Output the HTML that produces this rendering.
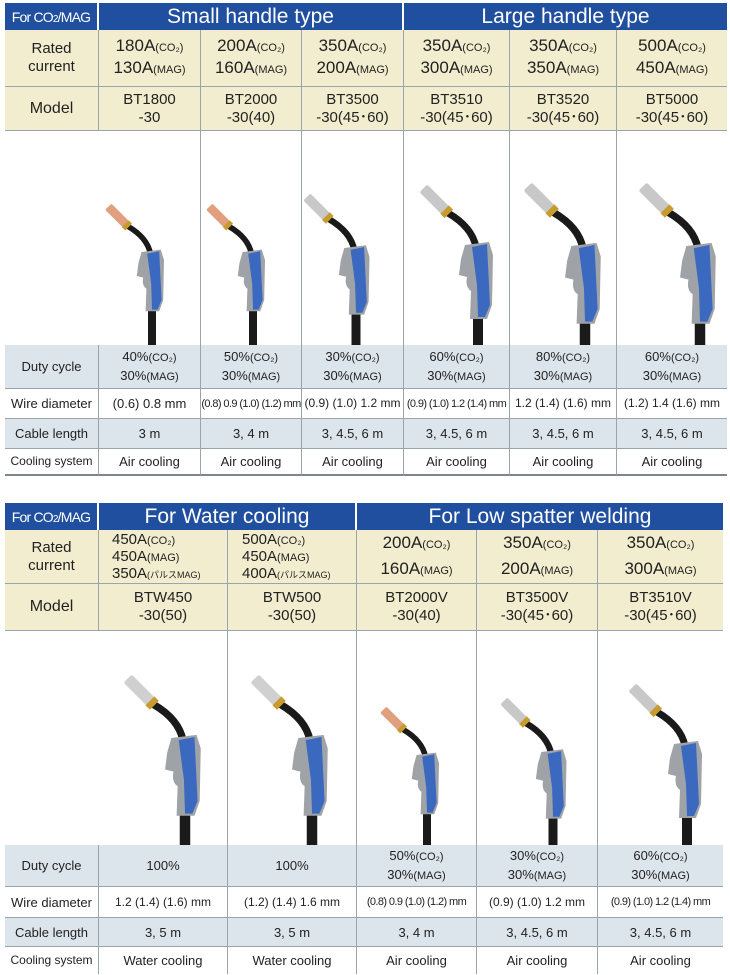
<!DOCTYPE html>
<html><head><meta charset="utf-8">
<style>
*{margin:0;padding:0;box-sizing:border-box}
body{width:730px;height:975px;background:#fff;position:relative;overflow:hidden;font-family:"Liberation Sans","Noto Sans CJK JP",sans-serif;color:#222}
.c{position:absolute;display:flex;align-items:center;justify-content:center;text-align:center;border-right:1px solid #9aa4ad;border-bottom:1px solid #9aa4ad;white-space:nowrap}
.c>p{display:block}
.h{background:#1f4f9e;color:#fff;font-size:21px;border-right:2px solid #fff;border-bottom:none}
.t{background:#1f4f9e;color:#fff;font-size:14px;border-right:2px solid #fff;border-bottom:none;letter-spacing:-0.8px}
.b{background:#f2edce}
.g{background:#dde5ec}
.w{background:#fff}
.i{background:transparent;border-bottom:none}
.big{font-size:17px;line-height:20px}
.md{font-size:15px;line-height:18px}
.sm{font-size:13px;line-height:17px}
.xs{font-size:11px;letter-spacing:-0.6px}
s{font-size:11px;text-decoration:none}
.k{font-family:"Liberation Sans",sans-serif}
svg{position:absolute;left:0;top:0}
</style></head><body>
<svg width="730" height="975">
<defs>
<symbol id="tr" overflow="visible">
<path d="M-30,-32 Q-6,-18 -2,2" stroke="#1a1a1a" stroke-width="7" fill="none"/>
<g transform="translate(-32,-34) rotate(45)"><rect x="-32" y="-5.5" width="32" height="11" rx="2" fill="currentColor"/><rect x="-2" y="-6" width="6" height="12" fill="#c89b2e"/></g>
<rect x="-5" y="70" width="10" height="80" fill="#1a1a1a"/>
<path d="M-13,0 L11,-3 L15,10 L14,60 L9,74 L-8,74 L-7,46 Q-13,42 -11,32 L-19,30 L-17,14 Z" fill="#9fa3a8"/>
<path d="M-6,2 L9,-1 L12,60 L7,72 L0,72 L-1,40 Z" fill="#3b69c0"/>
</symbol>
</defs>
<use href="#tr" transform="translate(152,252) scale(0.8)" color="#e0a080"/>
<use href="#tr" transform="translate(253,252) scale(0.8)" color="#e0a080"/>
<use href="#tr" transform="translate(356,248) scale(0.9)" color="#c8c8c8"/>
<use href="#tr" transform="translate(478,245) scale(1)" color="#c8c8c8"/>
<use href="#tr" transform="translate(585,246) scale(1.05)" color="#c8c8c8"/>
<use href="#tr" transform="translate(700,246) scale(1.05)" color="#c8c8c8"/>
<use href="#tr" transform="translate(185,738) scale(1.05)" color="#d0d0d0"/>
<use href="#tr" transform="translate(312,738) scale(1.05)" color="#d0d0d0"/>
<use href="#tr" transform="translate(427,755) scale(0.8)" color="#e0a080"/>
<use href="#tr" transform="translate(553,752) scale(0.9)" color="#c8c8c8"/>
<use href="#tr" transform="translate(687,744) scale(1)" color="#c8c8c8"/>
</svg>

<!-- TOP TABLE -->
<div class="c t" style="left:5px;top:3px;width:94px;height:27px"><p>For CO<span style="font-size:10px">2</span>/MAG</p></div>
<div class="c h" style="left:99px;top:3px;width:305px;height:27px"><p>Small handle type</p></div>
<div class="c h" style="left:404px;top:3px;width:323px;height:27px;border-right:none"><p>Large handle type</p></div>

<div class="c b md" style="left:5px;top:30px;width:94px;height:57px"><p>Rated<br>current</p></div>
<div class="c b big" style="left:99px;top:30px;width:102px;height:57px"><p>180A<s>(CO₂)</s><br>130A<s>(MAG)</s></p></div>
<div class="c b big" style="left:201px;top:30px;width:101px;height:57px"><p>200A<s>(CO₂)</s><br>160A<s>(MAG)</s></p></div>
<div class="c b big" style="left:302px;top:30px;width:102px;height:57px"><p>350A<s>(CO₂)</s><br>200A<s>(MAG)</s></p></div>
<div class="c b big" style="left:404px;top:30px;width:106px;height:57px"><p>350A<s>(CO₂)</s><br>300A<s>(MAG)</s></p></div>
<div class="c b big" style="left:510px;top:30px;width:107px;height:57px"><p>350A<s>(CO₂)</s><br>350A<s>(MAG)</s></p></div>
<div class="c b big" style="left:617px;top:30px;width:110px;height:57px;border-right:none"><p>500A<s>(CO₂)</s><br>450A<s>(MAG)</s></p></div>

<div class="c b md" style="left:5px;top:87px;width:94px;height:44px;font-size:16px"><p>Model</p></div>
<div class="c b md" style="left:99px;top:87px;width:102px;height:44px"><p>BT1800<br>-30</p></div>
<div class="c b md" style="left:201px;top:87px;width:101px;height:44px"><p>BT2000<br>-30(40)</p></div>
<div class="c b md" style="left:302px;top:87px;width:102px;height:44px"><p>BT3500<br>-30(45･60)</p></div>
<div class="c b md" style="left:404px;top:87px;width:106px;height:44px"><p>BT3510<br>-30(45･60)</p></div>
<div class="c b md" style="left:510px;top:87px;width:107px;height:44px"><p>BT3520<br>-30(45･60)</p></div>
<div class="c b md" style="left:617px;top:87px;width:110px;height:44px;border-right:none"><p>BT5000<br>-30(45･60)</p></div>

<div class="c i" style="left:99px;top:131px;width:102px;height:214px"></div>
<div class="c i" style="left:201px;top:131px;width:101px;height:214px"></div>
<div class="c i" style="left:302px;top:131px;width:102px;height:214px"></div>
<div class="c i" style="left:404px;top:131px;width:106px;height:214px"></div>
<div class="c i" style="left:510px;top:131px;width:107px;height:214px"></div>

<div class="c g sm" style="left:5px;top:345px;width:94px;height:44px"><p>Duty cycle</p></div>
<div class="c g sm" style="left:99px;top:345px;width:102px;height:44px"><p>40%<s>(CO₂)</s><br>30%<s>(MAG)</s></p></div>
<div class="c g sm" style="left:201px;top:345px;width:101px;height:44px"><p>50%<s>(CO₂)</s><br>30%<s>(MAG)</s></p></div>
<div class="c g sm" style="left:302px;top:345px;width:102px;height:44px"><p>30%<s>(CO₂)</s><br>30%<s>(MAG)</s></p></div>
<div class="c g sm" style="left:404px;top:345px;width:106px;height:44px"><p>60%<s>(CO₂)</s><br>30%<s>(MAG)</s></p></div>
<div class="c g sm" style="left:510px;top:345px;width:107px;height:44px"><p>80%<s>(CO₂)</s><br>30%<s>(MAG)</s></p></div>
<div class="c g sm" style="left:617px;top:345px;width:110px;height:44px;border-right:none"><p>60%<s>(CO₂)</s><br>30%<s>(MAG)</s></p></div>

<div class="c w sm" style="left:5px;top:389px;width:94px;height:30px"><p>Wire diameter</p></div>
<div class="c w sm" style="left:99px;top:389px;width:102px;height:30px"><p>(0.6) 0.8 mm</p></div>
<div class="c w xs" style="left:201px;top:389px;width:101px;height:30px"><p>(0.8) 0.9 (1.0) (1.2) mm</p></div>
<div class="c w sm" style="left:302px;top:389px;width:102px;height:30px;font-size:12px"><p>(0.9) (1.0) 1.2 mm</p></div>
<div class="c w xs" style="left:404px;top:389px;width:106px;height:30px"><p>(0.9) (1.0) 1.2 (1.4) mm</p></div>
<div class="c w sm" style="left:510px;top:389px;width:107px;height:30px;font-size:12px"><p>1.2 (1.4) (1.6) mm</p></div>
<div class="c w sm" style="left:617px;top:389px;width:110px;height:30px;font-size:12px;border-right:none"><p>(1.2) 1.4 (1.6) mm</p></div>

<div class="c g sm" style="left:5px;top:419px;width:94px;height:30px"><p>Cable length</p></div>
<div class="c g sm" style="left:99px;top:419px;width:102px;height:30px"><p>3 m</p></div>
<div class="c g sm" style="left:201px;top:419px;width:101px;height:30px"><p>3, 4 m</p></div>
<div class="c g sm" style="left:302px;top:419px;width:102px;height:30px"><p>3, 4.5, 6 m</p></div>
<div class="c g sm" style="left:404px;top:419px;width:106px;height:30px"><p>3, 4.5, 6 m</p></div>
<div class="c g sm" style="left:510px;top:419px;width:107px;height:30px"><p>3, 4.5, 6 m</p></div>
<div class="c g sm" style="left:617px;top:419px;width:110px;height:30px;border-right:none"><p>3, 4.5, 6 m</p></div>

<div class="c w sm" style="left:5px;top:449px;width:94px;height:27px;font-size:12px;border-bottom:2px solid #7d868e"><p>Cooling system</p></div>
<div class="c w sm" style="left:99px;top:449px;width:102px;height:27px;border-bottom:2px solid #7d868e"><p>Air cooling</p></div>
<div class="c w sm" style="left:201px;top:449px;width:101px;height:27px;border-bottom:2px solid #7d868e"><p>Air cooling</p></div>
<div class="c w sm" style="left:302px;top:449px;width:102px;height:27px;border-bottom:2px solid #7d868e"><p>Air cooling</p></div>
<div class="c w sm" style="left:404px;top:449px;width:106px;height:27px;border-bottom:2px solid #7d868e"><p>Air cooling</p></div>
<div class="c w sm" style="left:510px;top:449px;width:107px;height:27px;border-bottom:2px solid #7d868e"><p>Air cooling</p></div>
<div class="c w sm" style="left:617px;top:449px;width:110px;height:27px;border-right:none;border-bottom:2px solid #7d868e"><p>Air cooling</p></div>

<!-- BOTTOM TABLE -->
<div class="c t" style="left:5px;top:503px;width:94px;height:27px"><p>For CO<span style="font-size:10px">2</span>/MAG</p></div>
<div class="c h" style="left:99px;top:503px;width:258px;height:27px"><p>For Water cooling</p></div>
<div class="c h" style="left:357px;top:503px;width:366px;height:27px;border-right:none"><p>For Low spatter welding</p></div>

<div class="c b md" style="left:5px;top:530px;width:94px;height:54px"><p>Rated<br>current</p></div>
<div class="c b md" style="left:99px;top:530px;width:129px;height:54px;justify-content:flex-start;padding-left:13px"><p style="text-align:left;line-height:16px;font-size:15px">450A<s>(CO₂)</s><br>450A<s>(MAG)</s><br>350A<s style="font-size:9px;line-height:10px">(パルスMAG)</s></p></div>
<div class="c b md" style="left:228px;top:530px;width:129px;height:54px;justify-content:flex-start;padding-left:14px"><p style="text-align:left;line-height:16px;font-size:15px">500A<s>(CO₂)</s><br>450A<s>(MAG)</s><br>400A<s style="font-size:9px;line-height:10px">(パルスMAG)</s></p></div>
<div class="c b big" style="left:357px;top:530px;width:120px;height:54px"><p style="line-height:23px">200A<s>(CO₂)</s><br>160A<s>(MAG)</s></p></div>
<div class="c b big" style="left:477px;top:530px;width:121px;height:54px"><p style="line-height:23px">350A<s>(CO₂)</s><br>200A<s>(MAG)</s></p></div>
<div class="c b big" style="left:598px;top:530px;width:125px;height:54px;border-right:none"><p style="line-height:23px">350A<s>(CO₂)</s><br>300A<s>(MAG)</s></p></div>

<div class="c b md" style="left:5px;top:584px;width:94px;height:47px;font-size:16px"><p>Model</p></div>
<div class="c b md" style="left:99px;top:584px;width:129px;height:47px"><p>BTW450<br>-30(50)</p></div>
<div class="c b md" style="left:228px;top:584px;width:129px;height:47px"><p>BTW500<br>-30(50)</p></div>
<div class="c b md" style="left:357px;top:584px;width:120px;height:47px"><p>BT2000V<br>-30(40)</p></div>
<div class="c b md" style="left:477px;top:584px;width:121px;height:47px"><p>BT3500V<br>-30(45･60)</p></div>
<div class="c b md" style="left:598px;top:584px;width:125px;height:47px;border-right:none"><p>BT3510V<br>-30(45･60)</p></div>

<div class="c i" style="left:99px;top:631px;width:129px;height:214px"></div>
<div class="c i" style="left:228px;top:631px;width:129px;height:214px"></div>
<div class="c i" style="left:357px;top:631px;width:120px;height:214px"></div>
<div class="c i" style="left:477px;top:631px;width:121px;height:214px"></div>

<div class="c g sm" style="left:5px;top:845px;width:94px;height:42px"><p>Duty cycle</p></div>
<div class="c g sm" style="left:99px;top:845px;width:129px;height:42px"><p>100%</p></div>
<div class="c g sm" style="left:228px;top:845px;width:129px;height:42px"><p>100%</p></div>
<div class="c g sm" style="left:357px;top:845px;width:120px;height:42px"><p>50%<s>(CO₂)</s><br>30%<s>(MAG)</s></p></div>
<div class="c g sm" style="left:477px;top:845px;width:121px;height:42px"><p>30%<s>(CO₂)</s><br>30%<s>(MAG)</s></p></div>
<div class="c g sm" style="left:598px;top:845px;width:125px;height:42px;border-right:none"><p>60%<s>(CO₂)</s><br>30%<s>(MAG)</s></p></div>

<div class="c w sm" style="left:5px;top:887px;width:94px;height:31px"><p>Wire diameter</p></div>
<div class="c w sm" style="left:99px;top:887px;width:129px;height:31px;font-size:12px"><p>1.2 (1.4) (1.6) mm</p></div>
<div class="c w sm" style="left:228px;top:887px;width:129px;height:31px;font-size:12px"><p>(1.2) (1.4) 1.6 mm</p></div>
<div class="c w xs" style="left:357px;top:887px;width:120px;height:31px"><p>(0.8) 0.9 (1.0) (1.2) mm</p></div>
<div class="c w sm" style="left:477px;top:887px;width:121px;height:31px;font-size:12px"><p>(0.9) (1.0) 1.2 mm</p></div>
<div class="c w xs" style="left:598px;top:887px;width:125px;height:31px;border-right:none"><p>(0.9) (1.0) 1.2 (1.4) mm</p></div>

<div class="c g sm" style="left:5px;top:918px;width:94px;height:29px"><p>Cable length</p></div>
<div class="c g sm" style="left:99px;top:918px;width:129px;height:29px"><p>3, 5 m</p></div>
<div class="c g sm" style="left:228px;top:918px;width:129px;height:29px"><p>3, 5 m</p></div>
<div class="c g sm" style="left:357px;top:918px;width:120px;height:29px"><p>3, 4 m</p></div>
<div class="c g sm" style="left:477px;top:918px;width:121px;height:29px"><p>3, 4.5, 6 m</p></div>
<div class="c g sm" style="left:598px;top:918px;width:125px;height:29px;border-right:none"><p>3, 4.5, 6 m</p></div>

<div class="c w sm" style="left:5px;top:947px;width:94px;height:27px;font-size:12px;border-bottom:none"><p>Cooling system</p></div>
<div class="c w sm" style="left:99px;top:947px;width:129px;height:27px;border-bottom:none"><p>Water cooling</p></div>
<div class="c w sm" style="left:228px;top:947px;width:129px;height:27px;border-bottom:none"><p>Water cooling</p></div>
<div class="c w sm" style="left:357px;top:947px;width:120px;height:27px;border-bottom:none"><p>Air cooling</p></div>
<div class="c w sm" style="left:477px;top:947px;width:121px;height:27px;border-bottom:none"><p>Air cooling</p></div>
<div class="c w sm" style="left:598px;top:947px;width:125px;height:27px;border-right:none;border-bottom:none"><p>Air cooling</p></div>
</body></html>
